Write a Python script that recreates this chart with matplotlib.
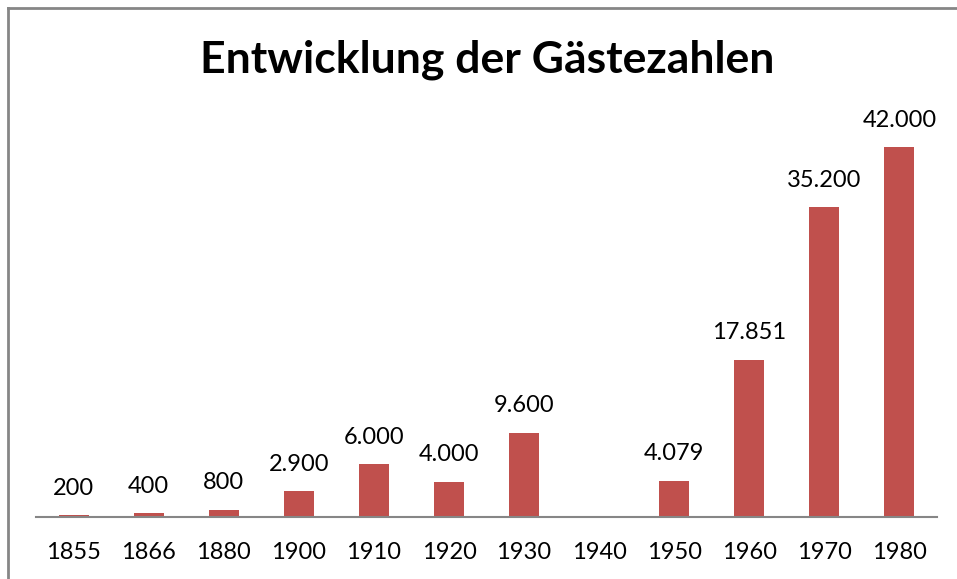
import numpy as np
import matplotlib.pyplot as plt
from matplotlib.lines import Line2D

# Gästezahlen per year (1940: no value)
years = ['1855', '1866', '1880', '1900', '1910', '1920', '1930', '1940',
         '1950', '1960', '1970', '1980']
guests = [200, 400, 800, 2900, 6000, 4000, 9600, None,
          4079, 17851, 35200, 42000]

plt.rcParams['font.family'] = ['Lato', 'DejaVu Sans']

W, H = 957, 579
fig = plt.figure(figsize=(W / 100, H / 100), dpi=100)
ax = fig.add_axes([36 / W, 1 - 517 / H, (937 - 36) / W, (517 - 77) / H])

x = np.arange(len(years))
vals = np.array([np.nan if v is None else v for v in guests], dtype=float)
ax.bar(x, np.nan_to_num(vals), width=0.4, color='#C0504D')

for xi, v in zip(x, guests):
    if v is None:
        continue
    label = f'{v:,}'.replace(',', '.')
    ax.annotate(label, (xi, v), xytext=(0, 12), textcoords='offset points',
                ha='center', va='bottom', fontsize=17)

ax.set_xlim(-0.5, len(years) - 0.5)
ax.set_ylim(0, 50000)
ax.set_xticks(x)
ax.set_xticklabels(years, fontsize=17)
ax.tick_params(axis='x', length=0, pad=18)
ax.set_yticks([])
for s in ['top', 'right', 'left']:
    ax.spines[s].set_visible(False)
ax.spines['bottom'].set_color('#868686')
ax.spines['bottom'].set_linewidth(1.5)

fig.text(487 / W, 1 - 60 / H, 'Entwicklung der Gästezahlen', ha='center',
         va='center', fontsize=32, fontweight='bold')

# chart frame (left and top edges)
fig.add_artist(Line2D([8 / W, 8 / W], [0, 1 - 8 / H], color='#868686', lw=2,
                      transform=fig.transFigure))
fig.add_artist(Line2D([8 / W, 1], [1 - 8 / H, 1 - 8 / H], color='#868686', lw=2,
                      transform=fig.transFigure))

fig.savefig('out.png', dpi=100)
